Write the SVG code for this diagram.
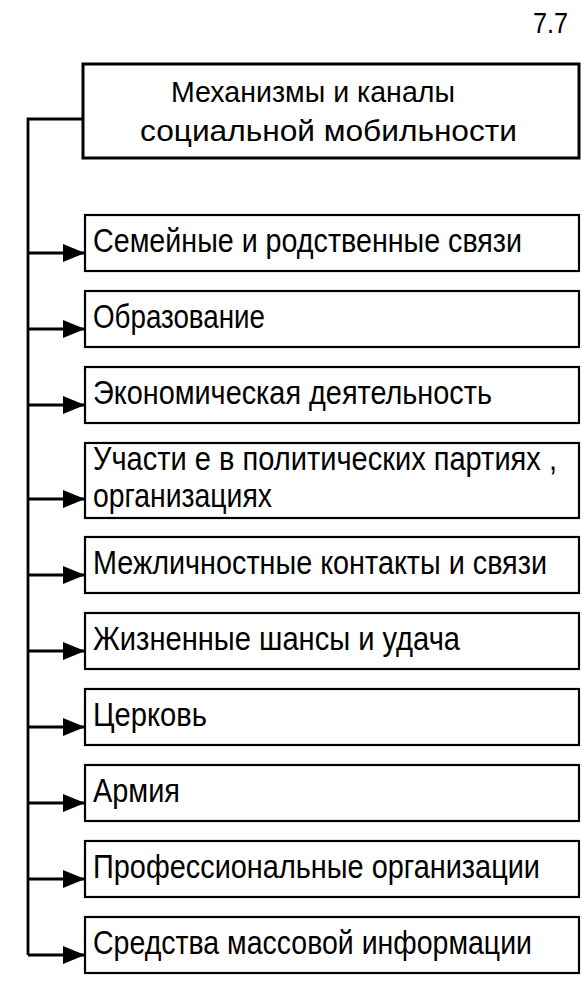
<svg xmlns="http://www.w3.org/2000/svg" width="586" height="982" viewBox="0 0 586 982">
<style>
.box{fill:#fff;stroke:#000;stroke-width:2.2}
.head{fill:#fff;stroke:#000;stroke-width:3}
.t{font-family:"Liberation Sans",Arial,sans-serif;font-size:34px;fill:#000}
.th{font-family:"Liberation Sans",Arial,sans-serif;font-size:30px;fill:#000}
.ln{fill:none;stroke:#000;stroke-width:2.8}
</style>
<defs>
<marker id="ah" viewBox="0 0 22 18" refX="22" refY="9" markerWidth="22" markerHeight="18" markerUnits="userSpaceOnUse" orient="auto">
<path d="M0,0 L22,9 L0,18 z" fill="#000"/>
</marker>
</defs>
<rect width="586" height="982" fill="#fff"/>
<text class="th" transform="scale(0.8,1)" x="666.25" y="33" textLength="43.75" lengthAdjust="spacingAndGlyphs">7.7</text>
<g id="connectors">
<path class="ln" d="M83,119 H28 V955"/>
<path class="ln" d="M28,253 H85" marker-end="url(#ah)"/>
<path class="ln" d="M28,329 H85" marker-end="url(#ah)"/>
<path class="ln" d="M28,405 H85" marker-end="url(#ah)"/>
<path class="ln" d="M28,499 H85" marker-end="url(#ah)"/>
<path class="ln" d="M28,575 H85" marker-end="url(#ah)"/>
<path class="ln" d="M28,651 H85" marker-end="url(#ah)"/>
<path class="ln" d="M28,727 H85" marker-end="url(#ah)"/>
<path class="ln" d="M28,803 H85" marker-end="url(#ah)"/>
<path class="ln" d="M28,879 H85" marker-end="url(#ah)"/>
<path class="ln" d="M28,955 H85" marker-end="url(#ah)"/>
</g>
<g id="root">
<rect class="head" x="83" y="64" width="496" height="94"/>
<text class="th" transform="scale(0.8,1)" x="213.75" y="102" textLength="355" lengthAdjust="spacingAndGlyphs">Механизмы и каналы</text>
<text class="th" transform="scale(0.8,1)" x="175" y="141" textLength="471.25" lengthAdjust="spacingAndGlyphs">социальной мобильности</text>
</g>
<g id="n1">
<rect class="box" x="85" y="215" width="494" height="56"/>
<text class="t" transform="scale(0.8,1)" x="116.25" y="252" textLength="536.25" lengthAdjust="spacingAndGlyphs">Семейные и родственные связи</text>
</g>
<g id="n2">
<rect class="box" x="85" y="291" width="494" height="56"/>
<text class="t" transform="scale(0.8,1)" x="116.25" y="328" textLength="215" lengthAdjust="spacingAndGlyphs">Образование</text>
</g>
<g id="n3">
<rect class="box" x="85" y="367" width="494" height="56"/>
<text class="t" transform="scale(0.8,1)" x="116.25" y="404" textLength="498.75" lengthAdjust="spacingAndGlyphs">Экономическая деятельность</text>
</g>
<g id="n4">
<rect class="box" x="85" y="443" width="494" height="75"/>
<text class="t" transform="scale(0.8,1)" x="116.25" y="470" textLength="580" lengthAdjust="spacingAndGlyphs">Участи е в политических партиях ,</text>
<text class="t" transform="scale(0.8,1)" x="116.25" y="507" textLength="223.75" lengthAdjust="spacingAndGlyphs">организациях</text>
</g>
<g id="n5">
<rect class="box" x="85" y="537" width="494" height="56"/>
<text class="t" transform="scale(0.8,1)" x="116.25" y="574" textLength="567.5" lengthAdjust="spacingAndGlyphs">Межличностные контакты и связи</text>
</g>
<g id="n6">
<rect class="box" x="85" y="613" width="494" height="56"/>
<text class="t" transform="scale(0.8,1)" x="116.25" y="650" textLength="458.75" lengthAdjust="spacingAndGlyphs">Жизненные шансы и удача</text>
</g>
<g id="n7">
<rect class="box" x="85" y="689" width="494" height="56"/>
<text class="t" transform="scale(0.8,1)" x="116.25" y="726" textLength="142.5" lengthAdjust="spacingAndGlyphs">Церковь</text>
</g>
<g id="n8">
<rect class="box" x="85" y="765" width="494" height="56"/>
<text class="t" transform="scale(0.8,1)" x="116.25" y="802" textLength="108.75" lengthAdjust="spacingAndGlyphs">Армия</text>
</g>
<g id="n9">
<rect class="box" x="85" y="841" width="494" height="56"/>
<text class="t" transform="scale(0.8,1)" x="116.25" y="878" textLength="558.75" lengthAdjust="spacingAndGlyphs">Профессиональные организации</text>
</g>
<g id="n10">
<rect class="box" x="85" y="917" width="494" height="56"/>
<text class="t" transform="scale(0.8,1)" x="116.25" y="954" textLength="548.75" lengthAdjust="spacingAndGlyphs">Средства массовой информации</text>
</g>
</svg>
